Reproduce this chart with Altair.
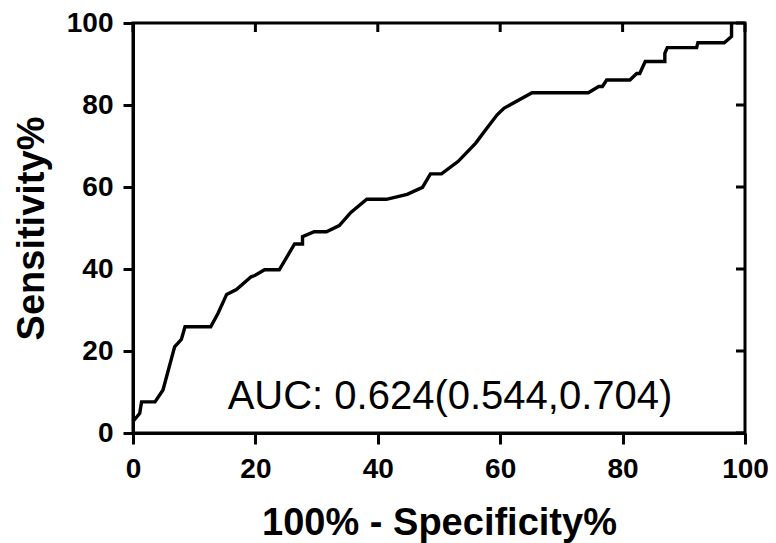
import altair as alt
import pandas as pd

fpr = [0, 1.1, 1.4, 3.6, 4.9, 6.8, 7.9, 8.5, 12.7, 13.9, 15.3, 16.9, 19.3, 19.9, 21.5, 23.9,
       26.4, 27.7, 27.7, 29.6, 31.6, 33.7, 35.6, 38.2, 41.4, 44.8, 47.3, 48.6, 50.4, 53.1,
       56.0, 57.6, 59.5, 60.6, 65.2, 74.4, 76.1, 76.7, 77.4, 81.2, 82.3, 82.8, 83.7, 86.9,
       86.9, 87.3, 92.1, 92.3, 96.6, 97.8, 97.8]
tpr = [2.8, 4.8, 7.6, 7.6, 10.5, 21.0, 22.8, 25.9, 25.9, 29.2, 33.8, 35.0, 38.1, 38.4, 39.8, 39.8,
       46.1, 46.1, 47.9, 49.1, 49.1, 50.6, 53.8, 57.0, 57.0, 58.2, 59.9, 63.2, 63.2, 66.2,
       70.7, 73.9, 77.6, 79.2, 83.0, 83.0, 84.5, 84.5, 86.1, 86.1, 87.7, 87.7, 90.6, 90.6,
       92.6, 94.0, 94.0, 95.2, 95.2, 96.7, 100.0]
ticks = [0, 20, 40, 60, 80, 100]
auc_text = ["AUC: 0.624(0.544,0.704)"]
auc_pos_x = [51.8]
auc_pos_y = [8.8]

W, H = 612, 410
FONT = "Liberation Sans"

df = pd.DataFrame({"fpr": fpr, "tpr": tpr, "i": range(len(fpr))})
tick_df = pd.DataFrame({"t": ticks})
auc_df = pd.DataFrame({"label": auc_text, "x": auc_pos_x, "y": auc_pos_y})

xscale = alt.Scale(domain=[0, 100], nice=False, zero=False)
yscale = alt.Scale(domain=[0, 100], nice=False, zero=False)

common = dict(values=ticks, tickWidth=3, domainWidth=3, domainColor="black",
              tickColor="black", labelFont=FONT, labelFontSize=28, labelFontWeight="bold",
              labelColor="black", labelFlush=False, labelOverlap=False,
              titleFont=FONT, titleFontSize=38, titleFontWeight="bold",
              titleColor="black", grid=False)

line = alt.Chart(df).mark_line(color="black", strokeWidth=3.4, strokeJoin="miter").encode(
    x=alt.X("fpr:Q", scale=xscale, title="100% - Specificity%",
            axis=alt.Axis(tickSize=11, labelPadding=11, titlePadding=21, **common)),
    y=alt.Y("tpr:Q", scale=yscale, title="Sensitivity%",
            axis=alt.Axis(tickSize=10, labelPadding=10, titlePadding=15, **common)),
    order="i:Q",
)

top_ticks = alt.Chart(tick_df).mark_rule(color="black", strokeWidth=3).encode(
    x=alt.X("t:Q", scale=xscale), y=alt.value(0), y2=alt.value(9))
right_ticks = alt.Chart(tick_df).mark_rule(color="black", strokeWidth=3).encode(
    y=alt.Y("t:Q", scale=yscale), x=alt.value(W - 9), x2=alt.value(W))

auc = alt.Chart(auc_df).mark_text(font=FONT, fontSize=40, color="black", align="center",
                                  baseline="middle").encode(
    x=alt.X("x:Q", scale=xscale), y=alt.Y("y:Q", scale=yscale), text="label:N")

chart = alt.layer(line, top_ticks, right_ticks, auc).properties(
    width=W, height=H,
    autosize=alt.AutoSizeParams(type="none"),
    padding={"left": 125, "top": 15, "right": 23, "bottom": 112},
    background="white",
).configure_view(stroke="black", strokeWidth=3)

chart.save("out.html", embed_options={"renderer": "svg", "actions": False})
